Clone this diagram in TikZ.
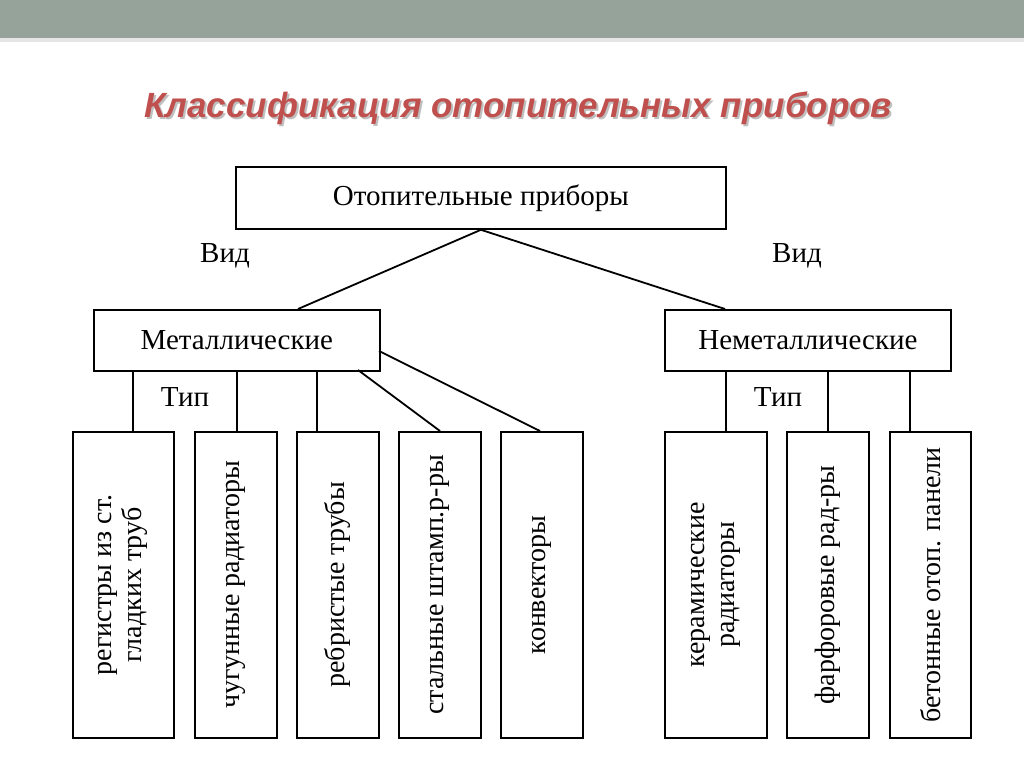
\documentclass[tikz,border=0pt]{standalone}
\usepackage{fontspec}
\setmainfont{Liberation Serif}
\newfontfamily\titlefont{Liberation Sans}
\begin{document}
\begin{tikzpicture}[x=1pt,y=-1pt,
 bx/.style={draw,line width=1.8pt,inner sep=0pt,anchor=north west},
 lbl/.style={font=\fontsize{29}{33}\selectfont},
 vt/.style={font=\fontsize{28}{30}\selectfont,rotate=90,align=center},
 ln/.style={line width=1.8pt}]
\useasboundingbox (0,0) rectangle (1024,767);
\fill[white] (0,0) rectangle (1024,767);
\fill[black!10] (0,38) rectangle (1024,42);
\fill[white] (0,42) rectangle (1024,767);
\fill[fill={rgb,255:red,149;green,163;blue,154}] (0,0) rectangle (1024,38);
\node[font=\titlefont\bfseries\itshape\fontsize{35}{40}\selectfont,text=black!25] at (520,110) {Классификация отопительных приборов};
\node[font=\titlefont\bfseries\itshape\fontsize{35}{40}\selectfont,text={rgb,255:red,192;green,80;blue,77}] (title) at (518,108) {Классификация отопительных приборов};
\node[bx,minimum width=490,minimum height=62,lbl] (top) at (235,166) {Отопительные приборы};
\node[bx,minimum width=286,minimum height=61,lbl] (met) at (93,309) {Металлические};
\node[bx,minimum width=286,minimum height=61,lbl] (nmet) at (664,309) {Неметаллические};
\foreach \n/\x/\w/\t in {b1/72/101/{регистры из ст.\\гладких труб},b2/194/82/{чугунные радиаторы},b3/296/82/{ребристые трубы},b4/398/82/{стальные штамп.р-ры},b5/500/82/{конвекторы},b6/664/102/{керамические\\радиаторы},b7/786/82/{фарфоровые рад-ры},b8/889/81/{бетонные отоп. панели}}{
 \node[bx,minimum width=\w,minimum height=306] (\n) at (\x,431) {};
 \node[vt] at (\n.center) {\t};
}
\draw[ln] (top.south) -- (298,309);
\draw[ln] (top.south) -- (725,309);
\draw[ln] (133,370) -- (133,431);
\draw[ln] (237,370) -- (237,431);
\draw[ln] (317,370) -- (317,431);
\draw[ln] (358,370) -- (440,431);
\draw[ln] (379,351) -- (540,431);
\draw[ln] (726,370) -- (726,431);
\draw[ln] (828,370) -- (828,431);
\draw[ln] (910,370) -- (910,431);
\node[lbl] (v1) at (225,256) {Вид};
\node[lbl] (v2) at (797,256) {Вид};
\node[lbl] (t1) at (185,397) {Тип};
\node[lbl] (t2) at (778,397) {Тип};
\end{tikzpicture}
\end{document}
